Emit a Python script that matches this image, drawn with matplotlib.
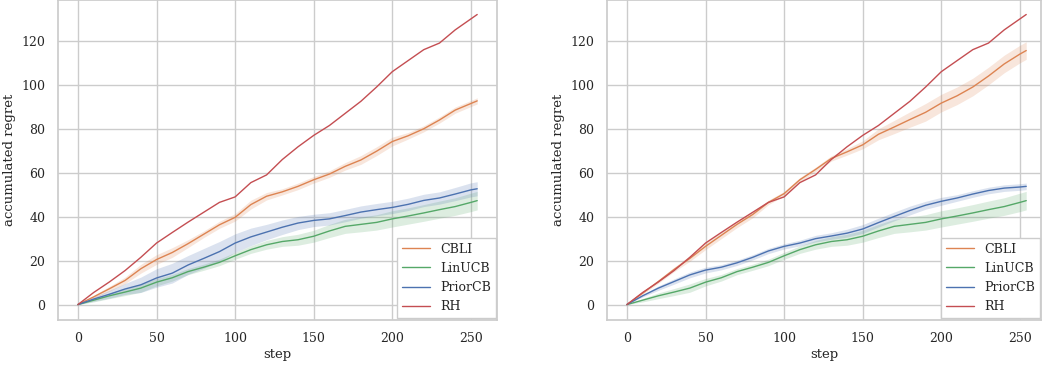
import numpy as np
import seaborn as sns
from matplotlib import pyplot as plt

sns.set_theme(style="whitegrid")
plt.rcParams['font.family'] = ['DejaVu Serif']

# steps at which the mean regret was recorded
steps = [0, 10, 20, 30, 40, 50, 60, 70, 80, 90, 100, 110, 120, 130, 140,
         150, 160, 170, 180, 190, 200, 210, 220, 230, 240, 250, 254]

# shared runs (same in both settings)
rh = [0, 5.5, 10.3, 15.5, 21.5, 28, 32.8, 37.5, 42, 46.5, 49, 55.5, 59, 66, 71.8,
      77, 81.5, 87, 92.5, 99, 106, 111, 116, 119, 125, 130, 132]
linucb = [0, 2, 4, 5.7, 7.5, 10.2, 12.2, 15, 17, 19.2, 22.2, 25, 27.2, 28.7, 29.5,
          31.1, 33.5, 35.6, 36.5, 37.4, 39, 40.3, 41.7, 43.2, 44.6, 46.5, 47.3]
linucb_sd = [0, 0.8, 1.3, 1.6, 1.9, 1.7, 1.5, 1.4, 1.4, 1.5, 1.6, 1.7, 2, 2.2, 2.5,
             2.7, 3, 3.2, 3.4, 3.5, 3.7, 3.7, 3.8, 3.9, 4, 4.2, 4.2]

# setting 1
cbli_a = [0, 3.5, 7.2, 11, 16.3, 20.5, 23.7, 27.7, 32, 36.3, 39.7, 45.5, 49.3, 51.3, 53.8,
          56.8, 59.4, 62.9, 65.8, 69.8, 74.2, 76.8, 80, 84, 88.5, 91.5, 92.7]
cbli_a_sd = [0, 0.7, 1.1, 1.5, 2, 2.2, 2.2, 1.8, 1.5, 1.6, 1.7, 2, 1.7, 1.4, 1.5,
             1.5, 1.5, 1.7, 2, 2, 2, 1.5, 1.4, 1.4, 1.4, 1.4, 1.4]
prior_a = [0, 2.5, 4.7, 7.1, 9, 12.1, 14.3, 18, 21, 24.1, 28, 30.8, 33, 35.2, 37.1,
           38.3, 39, 40.5, 42.1, 43.2, 44.2, 45.6, 47.4, 48.5, 50.3, 52.2, 52.7]
prior_a_sd = [0, 1, 1.8, 2.5, 3.5, 4.2, 4.5, 4.3, 4.5, 4.6, 4.2, 4, 3.5, 3.3, 3,
              2.8, 2.8, 2.8, 2.8, 2.8, 2.8, 2.8, 2.8, 2.8, 3, 3.2, 3.2]

# setting 2
cbli_b = [0, 5.2, 10.5, 16, 21, 26.5, 31.5, 36.5, 41, 46.5, 50.5, 56.8, 61.5, 66.5, 69.5,
          72.7, 77.5, 80.8, 84.2, 87.5, 91.7, 95, 99, 104, 109.5, 114, 115.6]
cbli_b_sd = [0, 0.5, 0.8, 1, 1.3, 1.5, 1.5, 1.5, 1.5, 1, 1, 1, 1, 1.2, 1.5,
             1.8, 2.5, 3, 3.5, 4, 4, 4, 4, 4, 4, 4, 4]
prior_b = [0, 4, 7.5, 10.5, 13.5, 15.7, 17, 19, 21.5, 24.4, 26.5, 28, 30, 31.2, 32.5,
           34.4, 37.3, 40.1, 42.8, 45.2, 47, 48.5, 50.3, 51.9, 53, 53.5, 53.8]
prior_b_sd = [0, 0.5, 1, 1.2, 1.3, 1.3, 1.2, 1.2, 1.2, 1.2, 1.2, 1.3, 1.5, 1.5, 1.8,
              2, 2, 2, 2, 1.8, 1.8, 1.5, 1.5, 1.5, 1.5, 1.5, 1.5]

pal = sns.color_palette("deep")
colors = {"CBLI": pal[1], "LinUCB": pal[2], "PriorCB": pal[0], "RH": pal[3]}

fig = plt.figure(figsize=(10.42, 3.66), dpi=100)
ax1 = fig.add_axes([58 / 1042, 0.127, 439 / 1042, 0.873])
ax2 = fig.add_axes([607 / 1042, 0.127, 434 / 1042, 0.873])

x = np.array(steps)
panels = [(ax1, cbli_a, cbli_a_sd, prior_a, prior_a_sd),
          (ax2, cbli_b, cbli_b_sd, prior_b, prior_b_sd)]

for ax, cbli, cbli_sd, prior, prior_sd in panels:
    series = [("CBLI", cbli, cbli_sd), ("LinUCB", linucb, linucb_sd),
              ("PriorCB", prior, prior_sd), ("RH", rh, None)]
    for name, m, sd in series:
        m = np.array(m)
        ax.plot(x, m, color=colors[name], lw=1.0, label=name)
        if sd is not None:
            sd = np.array(sd)
            ax.fill_between(x, m - sd, m + sd, color=colors[name], alpha=0.2, lw=0)
    ax.set_ylim(-6.8, 138.6)
    ax.set_yticks([0, 20, 40, 60, 80, 100, 120])
    ax.set_xticks([0, 50, 100, 150, 200, 250])
    ax.tick_params(labelsize=9, pad=3)
    ax.set_xlabel("step", fontsize=9.5, labelpad=2)
    ax.set_ylabel("accumulated regret", fontsize=9.5, labelpad=4)
    ax.legend(loc="lower right", fontsize=9, borderaxespad=0.1, frameon=True,
              facecolor="white", edgecolor="0.8", fancybox=False, framealpha=1,
              handlelength=2.2)

ax1.set_xlim(-12.7, 266.6)
ax2.set_xlim(-12.7, 263.4)

plt.savefig("out.png", dpi=100)
